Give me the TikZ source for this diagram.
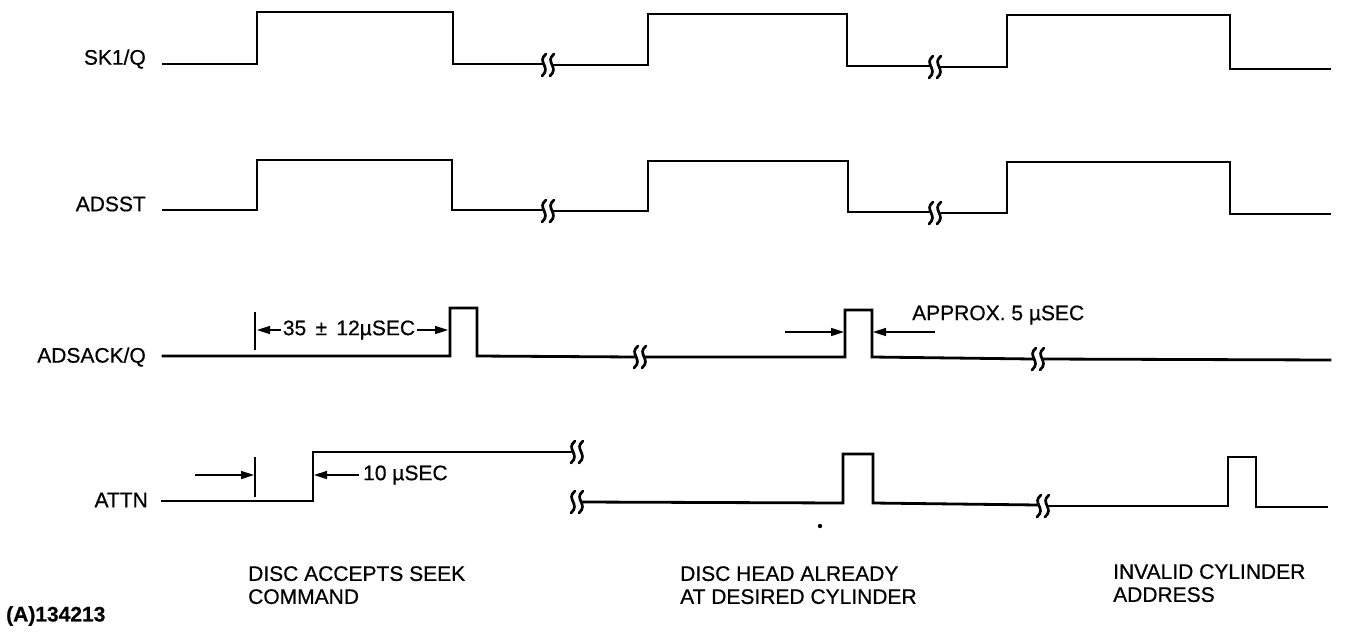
\documentclass[tikz,border=0pt]{standalone}
\usepackage{fontspec}
\setmainfont[FakeBold=0.6]{Liberation Sans}
\usetikzlibrary{arrows.meta}
\tikzset{
  sig/.style={line width=2.8pt, line join=miter, line cap=rect},
  brkline/.style={line width=2.7pt, line cap=round},
  tickline/.style={line width=1.7pt},
  dimarrow/.style={line width=1.6pt, -{Triangle[length=13pt,width=8pt]}},
  lbl/.style={anchor=east, inner sep=0pt, font=\fontsize{21}{23}\selectfont},
  ann/.style={anchor=west, inner sep=0pt, font=\fontsize{21}{23}\selectfont},
  note/.style={anchor=north west, inner sep=0pt, align=left, font=\fontsize{21}{23}\selectfont},
  zz/.pic={
    \draw[brkline] (-2,-11) .. controls (-12,-3) and (4,2) .. (-6,11);
    \draw[brkline] (6,-11) .. controls (-4,-3) and (12,2) .. (2,11);
  }
}
\begin{document}
\begin{tikzpicture}[x=1pt,y=-1pt]
\useasboundingbox (0,0) rectangle (1347,635);
% labels
\node[lbl] (l1) at (146,59) {SK1/Q};
\node[lbl] (l2) at (146,204) {ADSST};
\node[lbl] (l3) at (146,357) {ADSACK/Q};
\node[lbl] (l4) at (148,500) {ATTN};
% SK1/Q
\draw[sig] (163,64) -- (257,64) -- (257,12) -- (453,12) -- (453,64) -- (543,64);
\pic at (548,65) {zz};
\draw[sig] (553,65) -- (648,65) -- (648,14) -- (847,14) -- (847,66) -- (930,66);
\pic at (935,67) {zz};
\draw[sig] (940,67) -- (1007,67) -- (1007,15) -- (1230,15) -- (1230,69) -- (1330,69);
% ADSST
\draw[sig] (163,210) -- (257,210) -- (257,160) -- (452,160) -- (452,210) -- (543,210);
\pic at (548,211) {zz};
\draw[sig] (553,211) -- (648,211) -- (648,161) -- (848,161) -- (848,212) -- (930,212);
\pic at (935,213) {zz};
\draw[sig] (940,213) -- (1007,213) -- (1007,162) -- (1230,162) -- (1230,214) -- (1330,214);
% ADSACK/Q
\draw[sig] (163,356) -- (450,356) -- (450,308) -- (477,308) -- (477,356) -- (635,357);
\pic at (640,357) {zz};
\draw[sig] (645,357) -- (845,357) -- (845,310) -- (872,310) -- (872,357) -- (1033,359);
\pic at (1038,359) {zz};
\draw[sig] (1043,359) -- (1330,360);
% ATTN
\draw[sig] (162,501) -- (313,501) -- (313,452) -- (572,452);
\pic at (577,452) {zz};
\pic at (577,502) {zz};
\draw[sig] (582,502) -- (843,503) -- (843,454) -- (873,454) -- (873,503) -- (1038,505);
\pic at (1043,506) {zz};
\draw[sig] (1048,506) -- (1228,506) -- (1228,457) -- (1256,457) -- (1256,507) -- (1327,507);
% ADSACK annotations
\draw[tickline] (255,312) -- (255,350);
\node[inner sep=0pt, font=\fontsize{21}{23}\selectfont] (t35) at (349,330) {35 \,±\, 12µSEC};
\draw[dimarrow] (t35.west) ++(-2,0) -- (257,330);
\draw[dimarrow] (t35.east) ++(2,0) -- (448,330);
\coordinate (a1) at (785,332);
\coordinate (a2) at (935,332);
\draw[dimarrow] (a1) -- (844,332);
\draw[dimarrow] (a2) -- (873,332);
\node[ann] (t5) at (912,315) {APPROX. 5 µSEC};
% ATTN annotations
\draw[tickline] (255,457) -- (255,497);
\coordinate (a3) at (195,475);
\draw[dimarrow] (a3) -- (254,475);
\node[ann] (t10) at (363,475) {10 µSEC};
\draw[dimarrow] (t10.west) ++(-4,0) -- (314,475);
\fill (820,526) circle (2.2);
% bottom notes
\node[note] (n1) at (248,566) {DISC ACCEPTS SEEK\\COMMAND};
\node[note] (n2) at (680,566) {DISC HEAD ALREADY\\AT DESIRED CYLINDER};
\node[note] (n3) at (1113,564) {INVALID CYLINDER\\ADDRESS};
\node[anchor=west, inner sep=0pt, font=\fontsize{21}{23}\selectfont\bfseries] (fig) at (6,616) {(A)134213};
\end{tikzpicture}
\end{document}
